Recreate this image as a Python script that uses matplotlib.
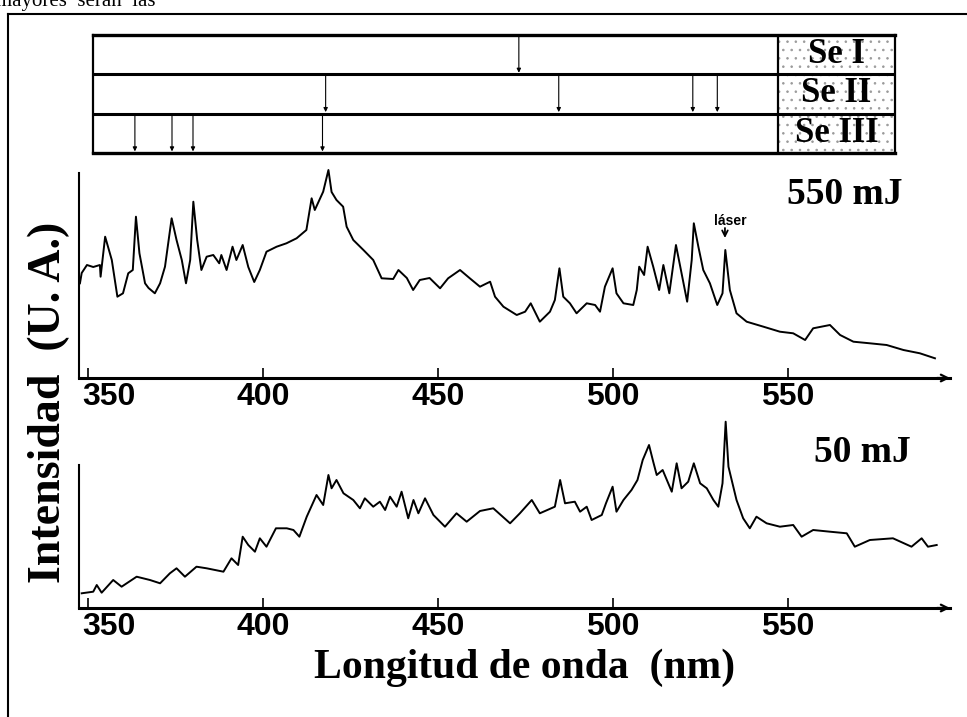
import matplotlib.pyplot as plt
import matplotlib.transforms as mtransforms
from matplotlib.lines import Line2D
from matplotlib.patches import Rectangle

plt.rcParams['hatch.linewidth'] = 0.6

# espectro 550 mJ (nm, u.a.)
wl_550 = [347.7, 348.2, 349.7, 351.5, 353.4, 353.6, 354.9, 356.8, 358.4, 360.0, 361.5, 362.8,
          363.7, 364.7, 366.3, 367.3, 369.1, 370.6, 372.0, 373.9, 375.3, 376.8, 378.0, 379.2,
          380.1, 381.2, 382.4, 383.9, 385.8, 387.5, 388.1, 389.6, 391.3, 392.4, 394.2, 395.8,
          397.5, 399.1, 401.0, 403.9, 406.7, 409.6, 412.4, 413.9, 414.8, 417.2, 418.7, 419.6,
          421.0, 422.9, 423.9, 425.8, 428.7, 431.5, 433.9, 437.2, 438.7, 441.1, 442.9, 444.8,
          447.6, 450.6, 452.9, 456.3, 459.1, 462.0, 464.9, 466.3, 468.7, 472.5, 474.9, 476.5,
          479.1, 482.0, 483.4, 484.7, 485.8, 487.7, 489.6, 492.5, 494.9, 496.3, 497.7, 499.9,
          501.0, 503.0, 505.8, 506.8, 507.5, 508.9, 509.9, 511.5, 513.2, 514.4, 516.1, 518.0,
          519.6, 521.2, 522.5, 523.1, 524.4, 525.8, 527.7, 529.8, 531.3, 532.1, 533.4, 535.3,
          538.2, 543.0, 547.7, 551.5, 554.9, 557.2, 562.0, 564.9, 568.7, 573.4, 578.2, 583.0,
          587.7, 592.0]
int_550 = [94.7, 105, 113, 111, 113, 101.3, 141.3, 118, 81.3, 84.7, 104.7, 108,
           161.3, 124.7, 94.7, 90, 84.7, 94.7, 111.3, 159.7, 138, 118, 94.7, 118,
           176.3, 138, 108, 121.3, 123, 114.7, 123, 108, 131.3, 118, 133, 111,
           96, 108, 126.3, 131.3, 134.7, 139.7, 148, 179.7, 168, 186.3, 208, 186,
           178, 171.3, 151.3, 138, 128, 118, 99.7, 99, 108, 100, 88, 98,
           100, 89.7, 99.7, 108, 99.7, 91.3, 96.3, 81.3, 71.3, 63, 66.3, 74.7,
           56.3, 66.3, 78, 109.7, 81.3, 74.7, 64.7, 74.7, 73, 66.3, 91.3, 109.7,
           84.7, 74.7, 73, 88, 111.3, 103, 131.3, 111.3, 88, 113, 84.7, 133,
           104.7, 76.3, 118, 154.7, 131.3, 108, 94.7, 73, 84.7, 128, 88, 64.7,
           56.3, 51.3, 46.3, 44.7, 38, 49.7, 53, 43, 36.3, 34.7, 33, 28,
           24.7, 19.7]

# espectro 50 mJ (nm, u.a.)
wl_50 = [348.2, 351.5, 352.5, 353.9, 357.2, 359.6, 363.9, 367.7, 370.6, 373.4, 375.3, 377.7,
         381.0, 383.9, 388.7, 391.0, 392.9, 394.2, 395.8, 397.7, 399.1, 401.0, 403.7, 406.8,
         408.7, 410.4, 412.5, 415.3, 417.2, 418.7, 419.6, 421.0, 423.0, 425.8, 427.7, 429.1,
         431.5, 433.4, 434.9, 436.3, 438.2, 439.6, 441.5, 443.0, 444.4, 446.3, 448.7, 452.0,
         455.3, 458.2, 462.0, 465.8, 470.6, 473.4, 476.8, 479.1, 483.4, 484.9, 486.3, 489.1,
         490.6, 492.5, 493.9, 496.8, 498.0, 499.9, 501.0, 503.0, 505.3, 507.0, 508.5, 510.3,
         511.5, 512.5, 514.2, 516.8, 518.2, 519.6, 521.5, 523.1, 524.9, 526.8, 528.7, 530.1,
         531.3, 532.2, 533.0, 535.3, 537.2, 539.1, 541.0, 543.9, 547.7, 551.5, 553.9, 557.2,
         562.0, 566.8, 569.1, 573.4, 580.0, 585.3, 588.2, 590.0, 592.5]
int_50 = [14.7, 16.3, 23, 15.3, 28, 21.3, 31.3, 28, 24.7, 34.7, 39.7, 31.3,
          41.3, 39.7, 36.3, 49.7, 43, 71.3, 63, 56.3, 69.7, 61.3, 79.7, 79.7,
          78, 71.3, 91.3, 113, 103, 133, 119.7, 128, 114.7, 108, 99.7, 109.7,
          101.3, 106.3, 98, 111.3, 101.3, 116.3, 89.7, 108, 94.7, 109.7, 93, 81.3,
          94.7, 86.3, 97, 99.7, 84.7, 94.7, 108, 94.7, 101.3, 128, 104.7, 106.3,
          96.3, 101.3, 88, 93, 104.7, 121.3, 96.3, 108, 118, 128, 148, 163,
          146.3, 133, 138, 116.3, 144.7, 119.7, 126.3, 144.7, 124.7, 119.7, 108, 101.3,
          124.7, 186.3, 141.3, 108, 89.7, 79.7, 91.3, 84.7, 81.3, 83, 71.3, 78,
          76.3, 74.7, 61.3, 68, 69.7, 61.3, 69.7, 61.3, 63]

ticks = [350, 400, 450, 500, 550]

# lineas de Se (nm)
se_rows = ['Se I', 'Se II', 'Se III']
se_lines = [[473.1],
            [417.9, 484.5, 522.8, 529.8],
            [363.4, 374.0, 380.0, 417.0]]

W, H = 967, 717
fig = plt.figure(figsize=(W / 100, H / 100), dpi=100)

serif = ['Liberation Serif', 'DejaVu Serif']
sans = ['Liberation Sans', 'DejaVu Sans']


def spec_axes(top, bottom, wl, inten):
    ax = fig.add_axes([79 / W, 1 - bottom / H, 871 / W, (bottom - top) / H])
    ax.plot(wl, inten, color='black', lw=1.4, clip_on=False)
    ax.set_xlim(347.43, 596.3)
    ax.set_ylim(0, bottom - top)
    ax.spines['top'].set_visible(False)
    ax.spines['right'].set_visible(False)
    ax.spines['left'].set_linewidth(1.5)
    ax.spines['bottom'].set_linewidth(2.2)
    ax.set_yticks([])
    ax.set_xticks(ticks)
    ax.tick_params(axis='x', direction='in', length=7, width=1.2, pad=3)
    labels = ax.get_xticklabels()
    for lb in labels:
        lb.set_family(sans)
        lb.set_fontweight('bold')
        lb.set_fontsize(23)
    # el 350 esta corrido a la derecha en el original
    shift = mtransforms.ScaledTranslation(0.21, 0, fig.dpi_scale_trans)
    labels[0].set_transform(labels[0].get_transform() + shift)
    ax.annotate('', xy=(1.0, 0.0), xycoords='axes fraction', xytext=(0.985, 0.0),
                arrowprops=dict(arrowstyle='->', lw=1.6, color='black',
                                mutation_scale=12, shrinkA=0, shrinkB=0))
    ax.patch.set_alpha(0)
    return ax


ax1 = spec_axes(173, 378, wl_550, int_550)
ax2 = spec_axes(465, 608, wl_50, int_50)

# laser
ax1.annotate('', xy=(532.0, 140), xytext=(532.0, 150),
             arrowprops=dict(arrowstyle='->', lw=1.3, color='black',
                             mutation_scale=10, shrinkA=0, shrinkB=0))
ax1.text(533.6, 150, 'láser', family=sans, fontweight='bold', fontsize=10,
         ha='center', va='bottom')

# tabla de lineas
axb = fig.add_axes([93 / W, 1 - 153 / H, 802 / W, 118 / H])
axb.set_xlim(351.43, 580.57)
axb.set_ylim(0, 3)
axb.set_xticks([])
axb.set_yticks([])
for s in ['top', 'bottom']:
    axb.spines[s].set_linewidth(2.4)
axb.spines['left'].set_linewidth(1.6)
axb.spines['right'].set_linewidth(1.6)
for yy in [1, 2]:
    axb.axhline(yy, color='black', lw=2.2)
axb.add_patch(Rectangle((0.854, 0), 0.146, 1, transform=axb.transAxes,
                        facecolor='white', edgecolor='#9a9a9a', hatch='..', lw=0))
axb.axvline(547.14, color='black', lw=1.6)
for i, (name, lines) in enumerate(zip(se_rows, se_lines)):
    top = 3 - i
    for w in lines:
        axb.annotate('', xy=(w, top - 1 + 0.04), xytext=(w, top),
                     arrowprops=dict(arrowstyle='-|>', lw=0.8, color='black',
                                     mutation_scale=6, shrinkA=0, shrinkB=0))
    axb.text(0.927, (top - 0.5) / 3, name, transform=axb.transAxes, family=serif,
             fontweight='bold', fontsize=25, ha='center', va='center')

# textos
fig.text(845 / W, 1 - 195 / H, '550 mJ', family=serif, fontweight='bold',
         fontsize=27, ha='center', va='center')
fig.text(862 / W, 1 - 452 / H, '50 mJ', family=serif, fontweight='bold',
         fontsize=27, ha='center', va='center')
fig.text(525 / W, 1 - 668 / H, 'Longitud de onda  (nm)', family=serif,
         fontweight='bold', fontsize=30, ha='center', va='center')
fig.text(49 / W, 1 - 402 / H, 'Intensidad  (U. A.)', family=serif,
         fontweight='bold', fontsize=33, ha='center', va='center', rotation=90)

# marco y texto cortado de la pagina
fig.add_artist(Line2D([8 / W, 8 / W], [0, 1 - 14 / H], color='black', lw=1.5))
fig.add_artist(Line2D([8 / W, 1], [1 - 14 / H, 1 - 14 / H], color='black', lw=1.5))
fig.text(-4 / W, 1 - 6 / H, 'mayores  serán  las', family=serif, fontsize=15,
         ha='left', va='baseline')

fig.savefig('out.png', dpi=100)
